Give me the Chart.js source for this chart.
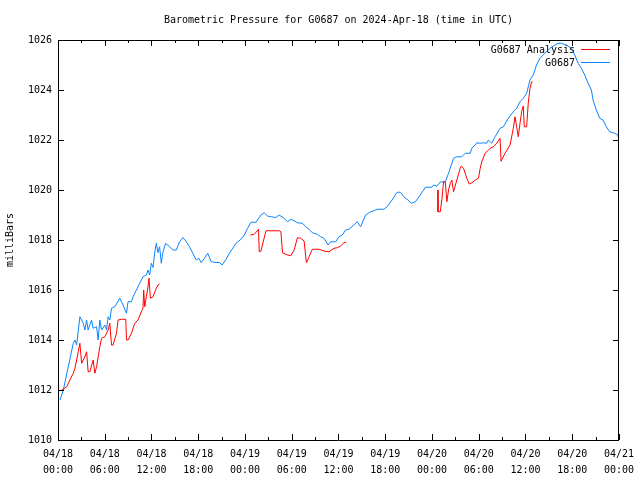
<!DOCTYPE html>
<html>
<head>
<meta charset="utf-8">
<script src="https://cdn.jsdelivr.net/npm/chart.js@4/dist/chart.umd.min.js"></script>
<style>
  html, body { margin: 0; padding: 0; background: #fff; }
  #wrap { width: 640px; height: 480px; }
</style>
</head>
<body>
<div id="wrap"><canvas id="pressureChart" width="640" height="480"></canvas></div>
<script>
// hours since 04/18 00:00 UTC
const hoursStation = [0.26, 0.68, 1.96, 2.17, 2.39, 2.81, 3.24, 3.45, 3.67, 3.87, 4.31, 4.51, 4.95, 5.15, 5.37, 5.59, 6.01, 6.23, 6.43, 6.65, 6.87, 7.29, 7.93, 8.35, 8.79, 8.99, 9.43, 9.63, 10.06, 10.49, 10.91, 11.34, 11.55, 11.77, 11.98, 12.19, 12.40, 12.62, 12.83, 13.04, 13.26, 13.46, 13.81, 14.32, 14.75, 15.18, 15.60, 16.02, 16.46, 16.88, 17.30, 17.74, 18.07, 18.38, 18.80, 19.22, 19.66, 20.30, 20.72, 21.06, 21.57, 22.00, 22.85, 23.49, 23.91, 24.34, 24.77, 25.41, 26.05, 26.47, 26.89, 27.33, 27.97, 28.39, 29.03, 29.45, 29.89, 30.31, 30.73, 31.37, 31.80, 32.23, 32.65, 33.29, 33.72, 34.15, 34.66, 35.00, 35.64, 36.06, 36.49, 36.92, 37.34, 37.98, 38.40, 38.84, 39.48, 40.12, 40.54, 40.96, 41.82, 42.24, 42.88, 43.52, 43.96, 44.38, 44.80, 45.36, 45.87, 46.51, 47.15, 48.00, 48.21, 48.63, 49.07, 49.71, 50.13, 50.55, 50.77, 51.19, 51.83, 52.27, 52.91, 53.11, 53.55, 53.75, 54.19, 54.61, 55.03, 55.25, 55.67, 56.10, 56.74, 57.17, 57.80, 58.44, 58.87, 59.30, 59.72, 60.15, 60.58, 61.00, 61.42, 61.86, 62.50, 63.14, 63.78, 64.20, 64.62, 65.26, 65.90, 66.33, 66.76, 67.18, 67.61, 68.04, 68.46, 68.68, 69.10, 69.53, 69.96, 70.38, 70.81, 71.45, 71.87, 72.00];
const pressureStation = [1011.6, 1012.0, 1013.87, 1014.0, 1013.8, 1014.93, 1014.67, 1014.4, 1014.8, 1014.4, 1014.8, 1014.47, 1014.53, 1014.0, 1014.8, 1014.4, 1014.6, 1014.4, 1014.93, 1014.8, 1015.27, 1015.33, 1015.67, 1015.4, 1015.07, 1015.53, 1015.53, 1015.73, 1016.0, 1016.27, 1016.53, 1016.6, 1016.8, 1016.6, 1017.07, 1016.9, 1017.47, 1017.87, 1017.5, 1017.73, 1017.07, 1017.5, 1017.87, 1017.73, 1017.6, 1017.6, 1017.93, 1018.1, 1017.93, 1017.73, 1017.47, 1017.2, 1017.27, 1017.1, 1017.27, 1017.47, 1017.13, 1017.1, 1017.1, 1017.0, 1017.23, 1017.47, 1017.87, 1018.03, 1018.2, 1018.47, 1018.71, 1018.71, 1019.0, 1019.09, 1018.96, 1018.93, 1018.9, 1019.0, 1018.87, 1018.73, 1018.83, 1018.77, 1018.69, 1018.67, 1018.53, 1018.43, 1018.29, 1018.23, 1018.13, 1018.07, 1017.8, 1017.93, 1017.93, 1018.13, 1018.2, 1018.4, 1018.43, 1018.6, 1018.73, 1018.53, 1019.0, 1019.13, 1019.17, 1019.23, 1019.23, 1019.33, 1019.6, 1019.91, 1019.91, 1019.73, 1019.63, 1019.47, 1019.53, 1019.8, 1020.11, 1020.11, 1020.2, 1020.15, 1020.32, 1020.33, 1020.67, 1021.07, 1021.27, 1021.33, 1021.33, 1021.47, 1021.47, 1021.67, 1021.8, 1021.89, 1021.87, 1021.89, 1021.87, 1022.0, 1021.87, 1022.13, 1022.47, 1022.53, 1022.87, 1023.13, 1023.27, 1023.53, 1023.67, 1023.87, 1024.4, 1024.6, 1025.0, 1025.27, 1025.47, 1025.67, 1025.8, 1025.87, 1025.87, 1025.8, 1025.67, 1025.4, 1025.07, 1024.87, 1024.6, 1024.27, 1024.0, 1023.6, 1023.2, 1022.87, 1022.8, 1022.53, 1022.33, 1022.27, 1022.2, 1022.0];

// analysis series, null = gap in the record
const hoursAnalysis = [0.51, 1.11, 1.53, 1.96, 2.17, 2.39, 2.60, 2.81, 3.03, 3.45, 3.67, 3.87, 4.09, 4.51, 4.73, 4.95, 5.37, 5.59, 6.01, 6.43, 6.65, 6.87, 7.07, 7.51, 7.71, 8.15, 8.70, 8.79, 8.99, 9.43, 9.85, 10.27, 10.70, 10.91, 11.00, 11.13, 11.34, 11.55, 11.68, 11.86, 12.19, 12.62, 12.83, 13.04,
  18.0,
  24.68, 25.19, 25.74, 25.83, 26.05, 26.69, 28.39, 28.61, 28.82, 29.45, 29.89, 30.31, 30.73, 31.16, 31.59, 31.88, 32.23, 32.65, 33.51, 34.15, 34.79, 35.42, 35.85, 36.28, 36.70, 37.00,
  43.0,
  48.76, 48.77, 49.07, 49.27, 49.49, 49.71, 49.91, 50.13, 50.35, 50.55, 50.77, 51.19, 51.63, 51.76, 52.05, 52.47, 52.78, 53.11, 53.55, 53.97, 54.19, 54.39, 54.83, 55.47, 55.89, 56.31, 56.74, 56.87, 57.38, 58.02, 58.23, 58.44, 58.66, 58.87, 59.08, 59.30, 59.51, 59.72, 59.85, 60.15, 60.36, 60.58, 60.79, 60.91];
const pressureAnalysis = [1012.0, 1012.13, 1012.4, 1012.67, 1012.87, 1013.2, 1013.53, 1013.87, 1013.07, 1013.33, 1013.53, 1012.73, 1012.73, 1013.2, 1012.67, 1012.93, 1013.73, 1014.07, 1014.13, 1014.4, 1014.67, 1013.8, 1013.8, 1014.27, 1014.8, 1014.83, 1014.83, 1014.0, 1014.0, 1014.27, 1014.67, 1014.8, 1015.13, 1015.27, 1016.0, 1015.33, 1015.73, 1016.13, 1016.47, 1015.67, 1015.73, 1016.07, 1016.2, 1016.24,
  null,
  1018.2, 1018.23, 1018.43, 1017.53, 1017.56, 1018.37, 1018.37, 1018.33, 1017.49, 1017.4, 1017.37, 1017.6, 1018.09, 1018.07, 1017.96, 1017.09, 1017.33, 1017.63, 1017.63, 1017.56, 1017.53, 1017.67, 1017.69, 1017.76, 1017.89, 1017.91,
  null,
  1020.0, 1019.13, 1019.13, 1019.6, 1020.33, 1020.33, 1019.53, 1020.0, 1020.27, 1020.4, 1019.93, 1020.4, 1020.87, 1020.96, 1020.87, 1020.47, 1020.24, 1020.29, 1020.4, 1020.47, 1020.87, 1021.13, 1021.47, 1021.67, 1021.73, 1021.87, 1022.07, 1021.15, 1021.47, 1021.8, 1022.13, 1022.47, 1022.93, 1022.53, 1022.13, 1022.67, 1023.13, 1023.36, 1022.53, 1022.53, 1023.47, 1024.07, 1024.33, 1024.33];

const tickDays = ['04/18', '04/18', '04/18', '04/18', '04/19', '04/19', '04/19', '04/19', '04/20', '04/20', '04/20', '04/20', '04/21'];
const tickTimes = ['00:00', '06:00', '12:00', '18:00', '00:00', '06:00', '12:00', '18:00', '00:00', '06:00', '12:00', '18:00', '00:00'];
const seriesNames = ['G0687 Analysis', 'G0687'];
const seriesColors = ['#ff0000', '#0a84ff'];

const MONO = '"DejaVu Sans Mono", "Liberation Mono", monospace';

const toPoints = (xs, ys) => xs.map((x, i) => ({ x: x, y: ys[i] }));

// gnuplot style frame: border box, inward ticks on all sides, title and legend inside the plot
const frame = {
    id: 'frame',
    afterDraw(chart) {
        const { ctx, chartArea: a, scales } = chart;
        const xs = scales.x, ys = scales.y;
        ctx.save();
        ctx.strokeStyle = '#000';
        ctx.lineWidth = 1;
        ctx.beginPath();
        ctx.rect(Math.round(a.left) + 0.5, Math.round(a.top) + 0.5, Math.round(a.right - a.left) - 1, Math.round(a.bottom - a.top));
        for (let h = 0; h <= 72; h += 3) {
            const px = Math.round(xs.getPixelForValue(h)) + 0.5;
            const len = h % 6 === 0 ? 6 : 3;
            ctx.moveTo(px, a.bottom); ctx.lineTo(px, a.bottom - len);
            ctx.moveTo(px, a.top); ctx.lineTo(px, a.top + len);
        }
        for (let v = 1010; v <= 1026; v += 2) {
            const py = Math.round(ys.getPixelForValue(v)) + 0.5;
            ctx.moveTo(a.left, py); ctx.lineTo(a.left + 6, py);
            ctx.moveTo(a.right, py); ctx.lineTo(a.right - 6, py);
        }
        ctx.stroke();

        ctx.fillStyle = '#000';
        ctx.font = '10px ' + MONO;
        ctx.textAlign = 'center';
        ctx.textBaseline = 'middle';
        ctx.fillText('Barometric Pressure for G0687 on 2024-Apr-18 (time in UTC)', (a.left + a.right) / 2, 20);

        ctx.textAlign = 'right';
        seriesNames.forEach((name, i) => {
            const y = 50 + i * 13;
            ctx.fillStyle = '#000';
            ctx.fillText(name, 575, y);
            ctx.strokeStyle = seriesColors[i];
            ctx.beginPath();
            ctx.moveTo(581, Math.round(y) - 0.5);
            ctx.lineTo(610, Math.round(y) - 0.5);
            ctx.stroke();
        });
        ctx.restore();
    }
};

new Chart(document.getElementById('pressureChart'), {
    type: 'line',
    data: {
        datasets: [{
            label: seriesNames[0],
            data: toPoints(hoursAnalysis, pressureAnalysis),
            borderColor: seriesColors[0],
            borderWidth: 1,
            pointRadius: 0,
            tension: 0,
            spanGaps: false
        }, {
            label: seriesNames[1],
            data: toPoints(hoursStation, pressureStation),
            borderColor: seriesColors[1],
            borderWidth: 1,
            pointRadius: 0,
            tension: 0
        }]
    },
    options: {
        responsive: false,
        animation: false,
        layout: { padding: { top: 40, right: 19, left: 0, bottom: 0 } },
        plugins: {
            legend: { display: false },
            title: { display: false },
            tooltip: { enabled: false }
        },
        scales: {
            x: {
                type: 'linear',
                min: 0,
                max: 72,
                afterFit: (s) => { s.height = 40; },
                grid: { display: false, drawTicks: false },
                border: { display: false },
                ticks: {
                    stepSize: 6,
                    padding: 6,
                    color: '#000',
                    maxRotation: 0,
                    autoSkip: false,
                    font: { family: MONO, size: 10, lineHeight: 1.6 },
                    callback: (v) => [tickDays[v / 6], tickTimes[v / 6]]
                }
            },
            y: {
                min: 1010,
                max: 1026,
                afterFit: (s) => { s.width = 58; },
                grid: { display: false, drawTicks: false },
                border: { display: false },
                title: {
                    display: true,
                    text: 'milliBars',
                    color: '#000',
                    font: { family: MONO, size: 10 }
                },
                ticks: {
                    stepSize: 2,
                    padding: 6,
                    color: '#000',
                    font: { family: MONO, size: 10 },
                    callback: (v) => String(v)
                }
            }
        }
    },
    plugins: [frame]
});
</script>
</body>
</html>
